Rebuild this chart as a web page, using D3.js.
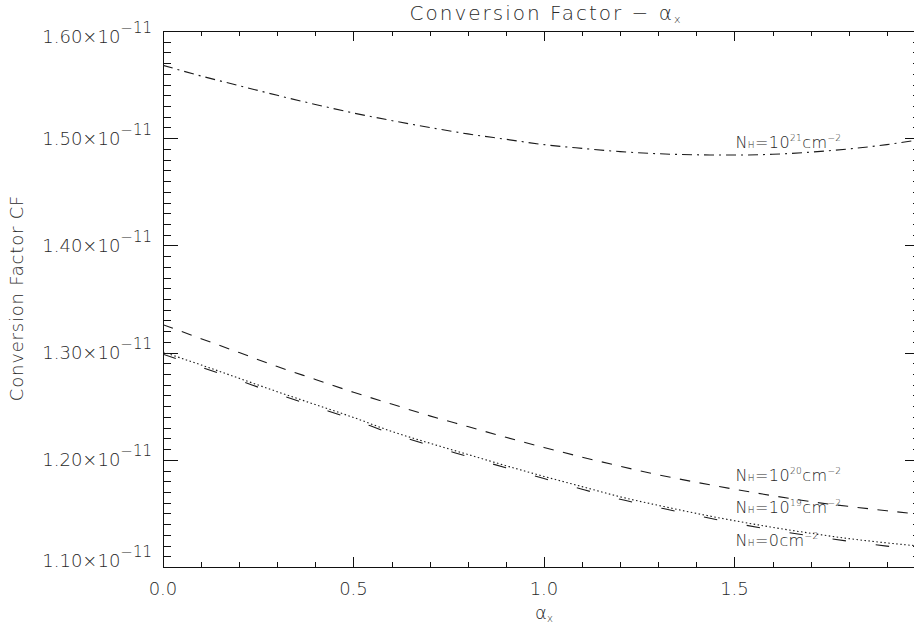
<!DOCTYPE html>
<html>
<head>
<meta charset="utf-8">
<script src="https://cdn.jsdelivr.net/npm/d3@7"></script>
<style>
  body { margin: 0; background: #fff; }
  svg { display: block; font-family: "DejaVu Sans", sans-serif; }
  .axis path, .axis line { stroke: #111; stroke-width: 1; shape-rendering: crispEdges; }
  .lbl { fill: #2a2a2a; font-weight: 300; }
</style>
</head>
<body>
<div id="chart"></div>
<script>
// alpha_x sample points
var alphaX = [0.0, 0.1, 0.2, 0.3, 0.4, 0.5, 0.6, 0.7, 0.8, 0.9, 1.0,
              1.1, 1.2, 1.3, 1.4, 1.5, 1.6, 1.7, 1.8, 1.9, 2.0];

// conversion factor, units of 1e-11
var cfNH21 = [1.568, 1.558, 1.549, 1.540, 1.5315, 1.5235, 1.5165, 1.510, 1.504, 1.499, 1.494,
              1.4905, 1.4875, 1.4855, 1.4845, 1.4843, 1.485, 1.487, 1.490, 1.494, 1.4995];
var cfNH20 = [1.326, 1.313, 1.300, 1.287, 1.275, 1.263, 1.252, 1.241, 1.231, 1.221, 1.2115,
              1.2025, 1.194, 1.186, 1.179, 1.1725, 1.1665, 1.161, 1.1565, 1.1525, 1.1485];
var cfNH19 = [1.3005, 1.2885, 1.276, 1.2635, 1.2515, 1.2395, 1.2265, 1.2155, 1.205, 1.1945, 1.1845,
              1.175, 1.1655, 1.1575, 1.150, 1.1432, 1.137, 1.1315, 1.1265, 1.1225, 1.119];
var cfNH0  = [1.2985, 1.2865, 1.274, 1.2615, 1.2495, 1.2375, 1.2245, 1.2135, 1.203, 1.1925, 1.1825,
              1.1725, 1.1632, 1.1555, 1.148, 1.141, 1.1345, 1.129, 1.124, 1.1195, 1.1155];

var yTickVals = [1.10, 1.20, 1.30, 1.40, 1.50, 1.60];
var yTickText = ['1.10', '1.20', '1.30', '1.40', '1.50', '1.60'];
var xTickVals = [0.0, 0.5, 1.0, 1.5];
var xTickText = ['0.0', '0.5', '1.0', '1.5'];

// curve labels: exponent text and anchor point (data coords)
var labelExp = ['21', '20', '19', null];
var labelX = [1.5, 1.5, 1.5, 1.5];
var labelY = [1.4905, 1.1805, 1.1505, 1.1195];

var W = 914, H = 624;
var plotL = 163, plotT = 31, plotR = 920, plotB = 567;

var svg = d3.select('#chart').append('svg')
    .attr('width', W)
    .attr('height', H);

var x = d3.scaleLinear().domain([0, 1.987]).range([plotL, plotR]);
var y = d3.scaleLinear().domain([1.10, 1.60]).range([plotB, plotT]);

svg.append('clipPath').attr('id', 'clip')
    .append('rect')
    .attr('x', plotL).attr('y', plotT)
    .attr('width', plotR - plotL).attr('height', plotB - plotT);

// minor tick values
var xMinor = d3.range(1, 20).map(function(i) { return i / 10; })
    .filter(function(v) { return Math.abs(v * 2 - Math.round(v * 2)) > 1e-6; });
var yMinor = d3.range(110, 161).map(function(i) { return i / 100; })
    .filter(function(v) { return Math.abs(v * 10 - Math.round(v * 10)) > 1e-6; });

function addAxis(axisFn, scale, vals, size, tx, ty) {
    svg.append('g')
        .attr('class', 'axis')
        .attr('transform', 'translate(' + tx + ',' + ty + ')')
        .call(axisFn(scale).tickValues(vals).tickSize(size).tickSizeOuter(0).tickFormat(''))
        .call(function(g) { g.selectAll('text').remove(); });
}

// bottom and top axes (ticks point inward)
addAxis(d3.axisTop, x, xTickVals, 10, 0, plotB);
addAxis(d3.axisTop, x, xMinor, 5, 0, plotB);
addAxis(d3.axisBottom, x, xTickVals, 10, 0, plotT);
addAxis(d3.axisBottom, x, xMinor, 5, 0, plotT);
// left and right axes
addAxis(d3.axisRight, y, yTickVals, 15, plotL, 0);
addAxis(d3.axisRight, y, yMinor, 7.5, plotL, 0);
addAxis(d3.axisLeft, y, yTickVals, 15, plotR, 0);
addAxis(d3.axisLeft, y, yMinor, 7.5, plotR, 0);

// y tick labels  (1.60x10^-11 style)
yTickVals.forEach(function(v, i) {
    var by = Math.max(plotT + 12, Math.min(plotB, y(v) + 6.5));
    var t = svg.append('text')
        .attr('class', 'lbl')
        .attr('x', plotL - 11)
        .attr('y', by)
        .attr('text-anchor', 'end')
        .attr('font-size', 18);
    t.append('tspan').text(yTickText[i] + '\u00d710');
    t.append('tspan').attr('dy', -10).attr('font-size', 15).text('\u221211');
});

// x tick labels
xTickVals.forEach(function(v, i) {
    svg.append('text')
        .attr('class', 'lbl')
        .attr('x', x(v))
        .attr('y', 595)
        .attr('text-anchor', 'middle')
        .attr('font-size', 18)
        .text(xTickText[i]);
});

// titles
var title = svg.append('text')
    .attr('class', 'lbl')
    .attr('x', 545).attr('y', 20)
    .attr('text-anchor', 'middle')
    .attr('font-size', 20)
    .attr('letter-spacing', 2);
title.append('tspan').text('Conversion Factor \u2212 \u03b1');
title.append('tspan').attr('dy', 3).attr('font-size', 11).attr('letter-spacing', 0).text('x');

var xt = svg.append('text')
    .attr('class', 'lbl')
    .attr('x', 544).attr('y', 619)
    .attr('text-anchor', 'middle')
    .attr('font-size', 18);
xt.append('tspan').text('\u03b1');
xt.append('tspan').attr('dy', 3).attr('font-size', 10).text('x');

svg.append('text')
    .attr('class', 'lbl')
    .attr('transform', 'translate(23,298) rotate(-90)')
    .attr('text-anchor', 'middle')
    .attr('font-size', 18)
    .attr('letter-spacing', 0.8)
    .text('Conversion Factor CF');

// curves
var line = d3.line()
    .x(function(d) { return x(d[0]); })
    .y(function(d) { return y(d[1]); })
    .curve(d3.curveMonotoneX);

var series = [
    { vals: cfNH21, dash: '10,5,2,5' },
    { vals: cfNH20, dash: '10.5,9.5' },
    { vals: cfNH19, dash: '1.5,2.5' },
    { vals: cfNH0,  dash: '13.5,30' }
];

svg.append('g')
    .attr('clip-path', 'url(#clip)')
    .selectAll('path')
    .data(series)
    .enter()
    .append('path')
    .attr('fill', 'none')
    .attr('stroke', '#1a1a1a')
    .attr('stroke-width', 1.1)
    .attr('stroke-dasharray', function(d) { return d.dash; })
    .attr('d', function(d) {
        return line(alphaX.map(function(a, i) { return [a, d.vals[i]]; }));
    });

// curve labels
labelExp.forEach(function(e, i) {
    var t = svg.append('text')
        .attr('class', 'lbl')
        .attr('x', x(labelX[i]) + 1)
        .attr('y', y(labelY[i]))
        .attr('font-size', 16)
        .attr('letter-spacing', 0.4);
    t.append('tspan').text('N');
    t.append('tspan').attr('font-size', 9).text('H');
    if (e) {
        t.append('tspan').text('=10');
        t.append('tspan').attr('font-size', 9).attr('dy', -7).text(e);
        t.append('tspan').attr('dy', 7).text('cm');
    } else {
        t.append('tspan').text('=0cm');
    }
    t.append('tspan').attr('font-size', 9).attr('dy', -7).text('\u22122');
});
</script>
</body>
</html>
